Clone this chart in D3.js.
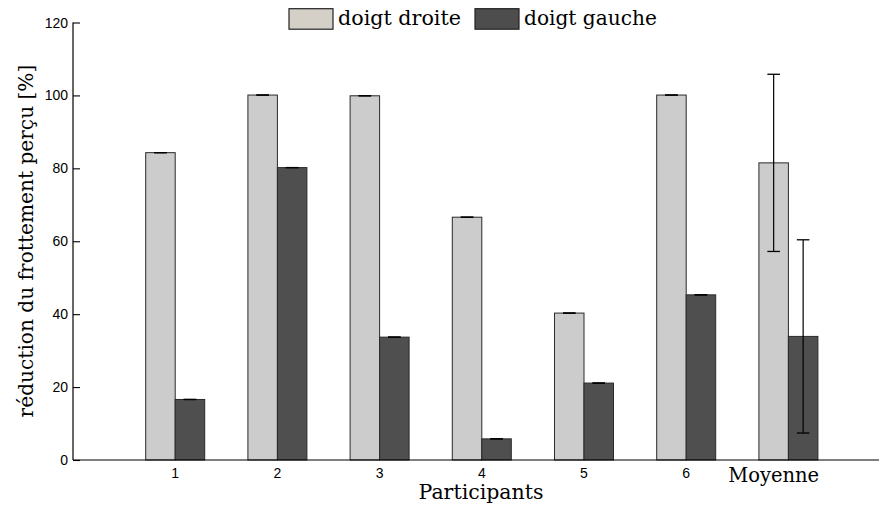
<!DOCTYPE html>
<html>
<head>
<meta charset="utf-8">
<script src="https://cdn.jsdelivr.net/npm/d3@7"></script>
<style>
  html, body { margin: 0; padding: 0; background: #fff; }
  svg { display: block; }
</style>
</head>
<body>
<svg id="chart" width="879" height="509"></svg>
<script>
// ---- data ----
const categories = ["1", "2", "3", "4", "5", "6", "Moyenne"];
const droite = [84.3, 100.1, 99.9, 66.6, 40.3, 100.1, 81.5];
const gauche = [16.6, 80.2, 33.7, 5.8, 21.1, 45.3, 33.9];
const droiteErr = [0, 0, 0, 0, 0, 0, 24.3];
const gaucheErr = [0, 0, 0, 0, 0, 0, 26.5];
const seriesNames = ["doigt droite", "doigt gauche"];
const yTicks = [0, 20, 40, 60, 80, 100, 120];
const yLabel = "réduction du frottement perçu [%]";
const xLabel = "Participants";

// ---- layout ----
const W = 879, H = 509;
const svg = d3.select("#chart");
const serif = "'DejaVu Serif', serif";
const sans = "'Liberation Sans', Arial, sans-serif";

const x = d3.scaleLinear().domain([0, categories.length + 1]).range([73, 73 + 8 * 102.2]);
const y = d3.scaleLinear().domain([0, 120]).range([460, 22.5]);
const bw = 29.5;
const fills = ["#cccccc", "#4f4f4f"];
const legendFills = ["#d4d0c8", "#4d4d4d"];

function fitText(sel, target) {
  const node = sel.node();
  const fs = parseFloat(sel.attr("font-size"));
  const w = node.getComputedTextLength();
  sel.attr("font-size", fs * target / w);
}

// bars
const g = svg.append("g");
const series = [droite, gauche];
const errs = [droiteErr, gaucheErr];
series.forEach((vals, s) => {
  g.selectAll(null).data(vals).enter().append("rect")
    .attr("x", (d, i) => x(i + 1) - bw + s * bw)
    .attr("y", d => y(d))
    .attr("width", bw)
    .attr("height", d => y(0) - y(d))
    .attr("fill", fills[s])
    .attr("stroke", "#2a2a2a")
    .attr("stroke-width", 1);
});

// error bars
series.forEach((vals, s) => {
  vals.forEach((v, i) => {
    const cx = x(i + 1) - bw / 2 + s * bw;
    const e = errs[s][i];
    const capHalf = 6.3;
    if (e > 0) {
      g.append("line").attr("x1", cx).attr("x2", cx)
        .attr("y1", y(v - e)).attr("y2", y(v + e))
        .attr("stroke", "#000").attr("stroke-width", 1.2);
    }
    [v - e, v + e].forEach(t => {
      g.append("line").attr("x1", cx - capHalf).attr("x2", cx + capHalf)
        .attr("y1", y(t)).attr("y2", y(t))
        .attr("stroke", "#000").attr("stroke-width", 1.3);
    });
  });
});

// axes
const axG = svg.append("g");
axG.append("line").attr("x1", x(0)).attr("x2", W + 20).attr("y1", y(0)).attr("y2", y(0))
  .attr("stroke", "#000").attr("stroke-width", 1.2);
axG.append("line").attr("x1", x(0)).attr("x2", x(0)).attr("y1", y(0)).attr("y2", y(120))
  .attr("stroke", "#000").attr("stroke-width", 1.2);

const yAxis = d3.axisRight(y).tickValues(yTicks).tickSize(7).tickFormat(() => "");
const yg = svg.append("g").attr("transform", `translate(${x(0)},0)`).call(yAxis);
yg.select(".domain").remove();
yg.selectAll(".tick line").attr("stroke", "#000").attr("stroke-width", 1.1);

svg.append("g").selectAll("text").data(yTicks).enter().append("text")
  .attr("x", 68).attr("y", d => y(d) + 5)
  .attr("text-anchor", "end")
  .attr("font-family", sans).attr("font-size", 14)
  .text(d => d);

// x tick labels
categories.forEach((c, i) => {
  if (c === "Moyenne") {
    const t = svg.append("text")
      .attr("x", x(i + 1) - bw / 2).attr("y", 482)
      .attr("text-anchor", "middle")
      .attr("font-family", serif).attr("font-size", 18)
      .text(c);
    fitText(t, 91);
  } else {
    svg.append("text")
      .attr("x", x(i + 1)).attr("y", 478)
      .attr("text-anchor", "middle")
      .attr("font-family", sans).attr("font-size", 14)
      .text(c);
  }
});

// axis titles
const xt = svg.append("text")
  .attr("x", 481).attr("y", 499)
  .attr("text-anchor", "middle")
  .attr("font-family", serif).attr("font-size", 19)
  .text(xLabel);
fitText(xt, 125);

const yt = svg.append("text")
  .attr("transform", "translate(33,241) rotate(-90)")
  .attr("text-anchor", "middle")
  .attr("font-family", serif).attr("font-size", 19)
  .text(yLabel);
fitText(yt, 353);

// legend
const legendX = [289, 475];
const legendW = [123, 133];
seriesNames.forEach((name, s) => {
  svg.append("rect")
    .attr("x", legendX[s]).attr("y", 8.7)
    .attr("width", 44).attr("height", 20.5)
    .attr("fill", legendFills[s])
    .attr("stroke", "#222").attr("stroke-width", 1.2);
  const t = svg.append("text")
    .attr("x", legendX[s] + 49).attr("y", 25)
    .attr("font-family", serif).attr("font-size", 20)
    .text(name);
  fitText(t, legendW[s]);
});
</script>
</body>
</html>
